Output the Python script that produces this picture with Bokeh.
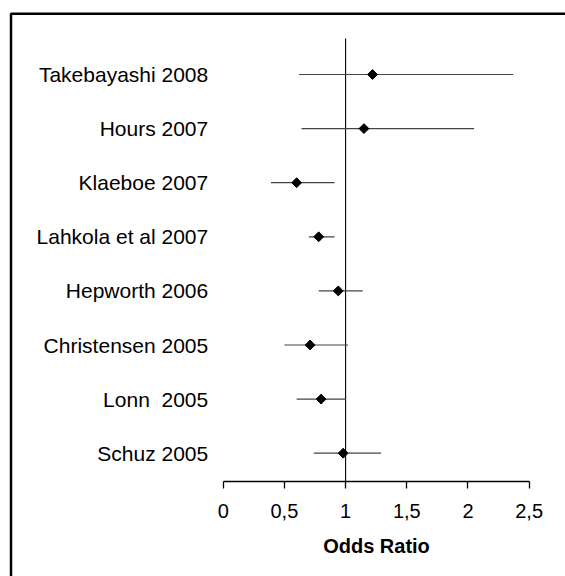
from bokeh.plotting import figure
from bokeh.models import (Range1d, LinearAxis, FixedTicker, BoxAnnotation, ColumnDataSource)
from bokeh.embed import file_html
from bokeh.resources import INLINE
import numpy as np

# ---- data ----
studies = ["Takebayashi 2008", "Hours 2007", "Klaeboe 2007", "Lahkola et al 2007",
           "Hepworth 2006", "Christensen 2005", "Lonn \u00a02005", "Schuz 2005"]
or_vals = [1.22, 1.15, 0.60, 0.78, 0.94, 0.71, 0.80, 0.98]
ci_low = [0.62, 0.64, 0.39, 0.70, 0.78, 0.50, 0.60, 0.74]
ci_high = [2.37, 2.05, 0.91, 0.91, 1.14, 1.02, 1.00, 1.29]
x_ticks = [0, 0.5, 1, 1.5, 2, 2.5]
x_tick_labels = ["0", "0,5", "1", "1,5", "2", "2,5"]
x_title = "Odds Ratio"
ref_value = 1

n = len(studies)
rows = [n - i for i in range(n)]  # top study at n

FONT = "Liberation Sans"

p = figure(width=565, height=576, output_backend="svg", toolbar_location=None,
           x_range=Range1d(-1.820, 2.797), y_range=Range1d(-1.279, 9.368),
           x_axis_location=None, y_axis_location=None,
           min_border_left=0, min_border_right=0, min_border_top=0, min_border_bottom=0)
p.xgrid.visible = False
p.ygrid.visible = False
p.outline_line_color = None
p.background_fill_color = "white"
p.border_fill_color = "white"

axis_y = 0.477
line_top = 8.665

# outer frame (clipped at right/bottom like the original)
frame = BoxAnnotation(left=10.5, right=2000, top=13.3, bottom=2000,
                      left_units="canvas", right_units="canvas",
                      top_units="canvas", bottom_units="canvas",
                      fill_color=None, fill_alpha=0,
                      line_color="black", line_alpha=1.0, line_width=2.5)
p.add_layout(frame)

# reference line at OR = 1
p.segment(x0=[ref_value], x1=[ref_value], y0=[axis_y], y1=[line_top],
          line_color="black", line_width=1.1)

src = ColumnDataSource(dict(y=rows, orv=or_vals, lo=ci_low, hi=ci_high))
p.segment(x0="lo", x1="hi", y0="y", y1="y", source=src,
          line_color="#444444", line_width=1.2)
p.scatter(x="orv", y="y", source=src, marker="square", angle=np.pi / 4,
          size=7, fill_color="black", line_color="black")

# x axis
xa = LinearAxis(fixed_location=axis_y, bounds=(0, 2.5),
                ticker=FixedTicker(ticks=x_ticks),
                major_label_overrides={float(t): l for t, l in zip(x_ticks, x_tick_labels)},
                axis_label=x_title)
xa.axis_line_color = "black"
xa.axis_line_width = 1.3
xa.major_tick_in = 0
xa.major_tick_out = 7
xa.major_tick_line_color = "black"
xa.major_tick_line_width = 1.3
xa.minor_tick_line_color = None
xa.major_label_standoff = 15
xa.major_label_text_font = FONT
xa.major_label_text_font_size = "20px"
xa.major_label_text_color = "black"
xa.axis_label_text_font = FONT
xa.axis_label_text_font_size = "20px"
xa.axis_label_text_font_style = "bold"
xa.axis_label_text_color = "black"
xa.axis_label_standoff = 14
p.add_layout(xa, "below")

# y axis (study labels)
ya = LinearAxis(fixed_location=0, ticker=FixedTicker(ticks=rows),
                major_label_overrides={r: s for r, s in zip(rows, studies)})
ya.axis_line_color = None
ya.major_tick_line_color = None
ya.minor_tick_line_color = None
ya.major_tick_in = 0
ya.major_tick_out = 0
ya.major_label_standoff = 15
ya.major_label_orientation = "horizontal"
ya.major_label_text_font = FONT
ya.major_label_text_font_size = "21px"
ya.major_label_text_color = "black"
p.add_layout(ya, "left")

open("out.html", "w").write(file_html(p, INLINE))
